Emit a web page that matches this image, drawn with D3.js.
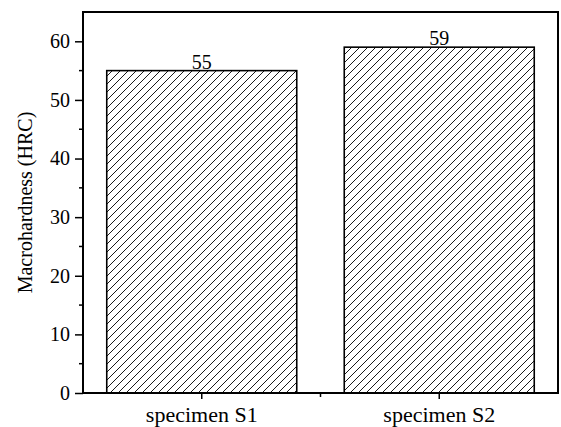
<!DOCTYPE html>
<html>
<head>
<meta charset="utf-8">
<script src="https://cdn.jsdelivr.net/npm/d3@7"></script>
<style>
body { margin: 0; background: #fff; }
text { font-family: "Liberation Serif", "Times New Roman", serif; }
</style>
</head>
<body>
<svg id="chart" width="561" height="427"></svg>
<script>
// data
var categories = ["specimen S1", "specimen S2"];
var hardness = [55, 59];
var yMajorTicks = [0, 10, 20, 30, 40, 50, 60];
var yMinorTicks = [5, 15, 25, 35, 45, 55];

var serif = '"Liberation Serif", "Times New Roman", serif';
var svg = d3.select("#chart");
var margin = {top: 12, right: 3, bottom: 34, left: 83};
var width = +svg.attr("width") - margin.left - margin.right;
var height = +svg.attr("height") - margin.top - margin.bottom;

var g = svg.append("g")
    .attr("transform", "translate(" + margin.left + "," + margin.top + ")");

var x = d3.scaleBand().domain(categories).range([0, width])
    .paddingInner(0.2).paddingOuter(0.1);
var y = d3.scaleLinear().domain([0, 65]).range([height, 0]);

// hatch pattern
var defs = svg.append("defs");
var pat = defs.append("pattern")
    .attr("id", "hatch")
    .attr("patternUnits", "userSpaceOnUse")
    .attr("width", 8).attr("height", 8);
pat.append("rect").attr("width", 8).attr("height", 8).attr("fill", "#fff");
pat.append("path")
    .attr("d", "M-2,2 l4,-4 M0,8 l8,-8 M6,10 l4,-4")
    .attr("stroke", "#000").attr("stroke-width", 0.9);

var data = categories.map(function(c, i) { return {label: c, value: hardness[i]}; });

g.selectAll(".bar")
    .data(data)
  .enter().append("rect")
    .attr("class", "bar")
    .attr("x", function(d) { return x(d.label); })
    .attr("y", function(d) { return y(d.value); })
    .attr("width", x.bandwidth())
    .attr("height", function(d) { return height - y(d.value); })
    .attr("fill", "url(#hatch)")
    .attr("stroke", "#000")
    .attr("stroke-width", 1.6);

g.selectAll(".val")
    .data(data)
  .enter().append("text")
    .attr("class", "val")
    .attr("x", function(d) { return x(d.label) + x.bandwidth() / 2; })
    .attr("y", function(d) { return y(d.value) - 2; })
    .attr("text-anchor", "middle")
    .style("font-family", serif)
    .style("font-size", "20px")
    .text(function(d) { return d.value; });

// frame
g.append("rect")
    .attr("width", width).attr("height", height)
    .attr("fill", "none").attr("stroke", "#000").attr("stroke-width", 2);

// y axis
var yAxis = g.append("g")
    .attr("font-family", serif)
    .call(d3.axisLeft(y).tickValues(yMajorTicks).tickSize(8).tickPadding(5).tickSizeOuter(0));
yAxis.attr("font-family", serif);
yAxis.select(".domain").remove();
yAxis.selectAll("line").attr("stroke-width", 1.5);
yAxis.selectAll("text").style("font-family", serif).style("font-size", "20px").attr("fill", "#000");

g.append("g").selectAll("line")
    .data(yMinorTicks)
  .enter().append("line")
    .attr("x1", -4).attr("x2", 0)
    .attr("y1", function(d) { return y(d); })
    .attr("y2", function(d) { return y(d); })
    .attr("stroke", "#000").attr("stroke-width", 1.5);

// x axis
var xAxis = g.append("g")
    .attr("transform", "translate(0," + height + ")")
    .call(d3.axisBottom(x).tickSize(6).tickPadding(7).tickSizeOuter(0));
xAxis.attr("font-family", serif);
xAxis.select(".domain").remove();
xAxis.selectAll("line").attr("stroke-width", 1.5);
xAxis.selectAll("text").style("font-family", serif).style("font-size", "22px").attr("fill", "#000");

var bounds = categories.slice(1).map(function(c) { return x(c) - x.step() * x.paddingInner() / 2; });
g.append("g").selectAll("line")
    .data(bounds)
  .enter().append("line")
    .attr("x1", function(d) { return d; }).attr("x2", function(d) { return d; })
    .attr("y1", height).attr("y2", height + 4)
    .attr("stroke", "#000").attr("stroke-width", 1.5);

// y title
svg.append("text")
    .attr("transform", "translate(32," + (margin.top + height / 2) + ") rotate(-90)")
    .attr("text-anchor", "middle")
    .style("font-family", serif)
    .style("font-size", "20px")
    .text("Macrohardness (HRC)");
</script>
</body>
</html>
